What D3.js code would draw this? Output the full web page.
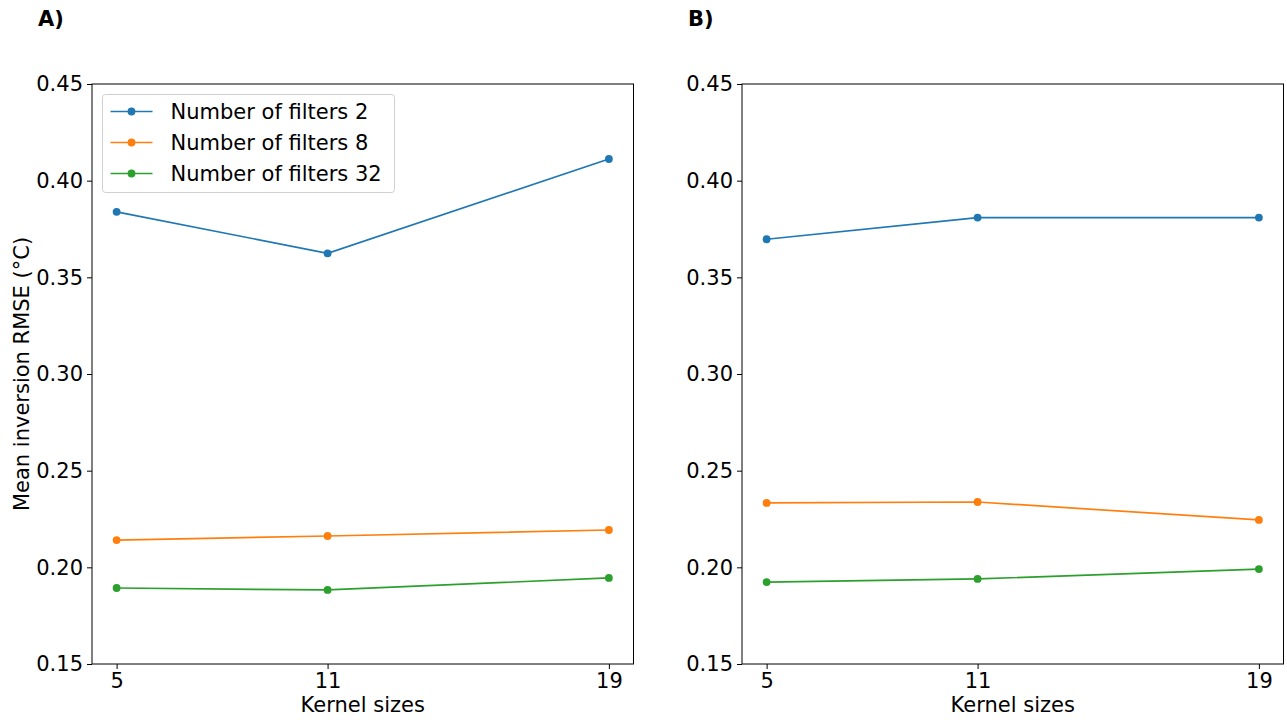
<!DOCTYPE html>
<html><head><meta charset="utf-8">
<script src="https://cdn.jsdelivr.net/npm/d3@7"></script>
<style>
body{margin:0;background:#fff;}
text{font-family:"DejaVu Sans",sans-serif;fill:#000;}
</style></head>
<body><svg id="c" width="1287" height="720"></svg>
<script>
const kernelSizes = [5, 11, 19];
const seriesNames = ["Number of filters 2", "Number of filters 8", "Number of filters 32"];
const seriesColors = ["#1f77b4", "#ff7f0e", "#2ca02c"];
const panelTitles = ["A)", "B)"];
// Panel A values
const panelA_f2 = [0.3839, 0.3624, 0.4112];
const panelA_f8 = [0.2141, 0.2162, 0.2193];
const panelA_f32 = [0.1893, 0.1883, 0.1945];
// Panel B values
const panelB_f2 = [0.3697, 0.3809, 0.3809];
const panelB_f8 = [0.2333, 0.2338, 0.2245];
const panelB_f32 = [0.1924, 0.1940, 0.1991];
const yTicks = [0.15, 0.20, 0.25, 0.30, 0.35, 0.40, 0.45];
const xLabel = "Kernel sizes";
const yLabel = "Mean inversion RMSE (°C)";

const panels = [
  {title: panelTitles[0], series: [panelA_f2, panelA_f8, panelA_f32], left: 92, legend: true},
  {title: panelTitles[1], series: [panelB_f2, panelB_f8, panelB_f32], left: 742, legend: false}
];
const svg = d3.select("#c");
const W = 541.5, plotTop = 84, H = 580;
const fs = 21;

panels.forEach((p, pi) => {
  const g = svg.append("g").attr("transform", `translate(${p.left},${plotTop})`);
  const x = d3.scaleLinear().domain([4.3, 19.7]).range([0, W]);
  const y = d3.scaleLinear().domain([0.15, 0.45]).range([H, 0]);

  const xa = g.append("g").attr("transform", `translate(0,${H})`)
    .call(d3.axisBottom(x).tickValues(kernelSizes).tickFormat(d3.format("d")).tickSize(5).tickPadding(4));
  const ya = g.append("g")
    .call(d3.axisLeft(y).tickValues(yTicks).tickFormat(d3.format(".2f")).tickSize(5).tickPadding(4));
  [xa, ya].forEach(a => {
    a.select(".domain").remove();
    a.selectAll("line").attr("stroke", "#000").attr("stroke-width", 1);
    a.selectAll("text").attr("font-size", fs).attr("font-family", "DejaVu Sans").attr("fill", "#000");
  });
  g.append("rect").attr("x", 0).attr("y", 0).attr("width", W).attr("height", H)
    .attr("fill", "none").attr("stroke", "#000").attr("stroke-width", 1);

  const line = d3.line().x((d, i) => x(kernelSizes[i])).y(d => y(d));
  p.series.forEach((s, si) => {
    g.append("path").datum(s).attr("d", line).attr("fill", "none")
      .attr("stroke", seriesColors[si]).attr("stroke-width", 1.7);
    g.selectAll(null).data(s).enter().append("circle")
      .attr("cx", (d, i) => x(kernelSizes[i])).attr("cy", d => y(d)).attr("r", 3.9)
      .attr("fill", seriesColors[si]);
  });

  g.append("text").attr("x", W / 2).attr("y", H + 48).attr("text-anchor", "middle")
    .attr("font-size", fs).text(xLabel);
  if (pi === 0) {
    svg.append("text").attr("transform", `translate(29,${plotTop + H / 2}) rotate(-90)`)
      .attr("text-anchor", "middle").attr("font-size", fs).text(yLabel);
  }
  svg.append("text").attr("x", p.left - 54).attr("y", 26).attr("font-size", fs)
    .attr("font-weight", "bold").text(p.title);

  if (p.legend) {
    const lg = g.append("g").attr("transform", "translate(10.5,10.5)");
    lg.append("rect").attr("width", 292).attr("height", 98).attr("rx", 3)
      .attr("fill", "#fff").attr("fill-opacity", 0.8).attr("stroke", "#d0d0d0").attr("stroke-width", 1);
    seriesNames.forEach((n, si) => {
      const cy = 17 + si * 31;
      lg.append("line").attr("x1", 8).attr("x2", 50).attr("y1", cy).attr("y2", cy)
        .attr("stroke", seriesColors[si]).attr("stroke-width", 1.7);
      lg.append("circle").attr("cx", 29).attr("cy", cy).attr("r", 3.9).attr("fill", seriesColors[si]);
      lg.append("text").attr("x", 68).attr("y", cy).attr("dy", "0.35em")
        .attr("font-size", fs).text(n);
    });
  }
});
</script></body></html>
